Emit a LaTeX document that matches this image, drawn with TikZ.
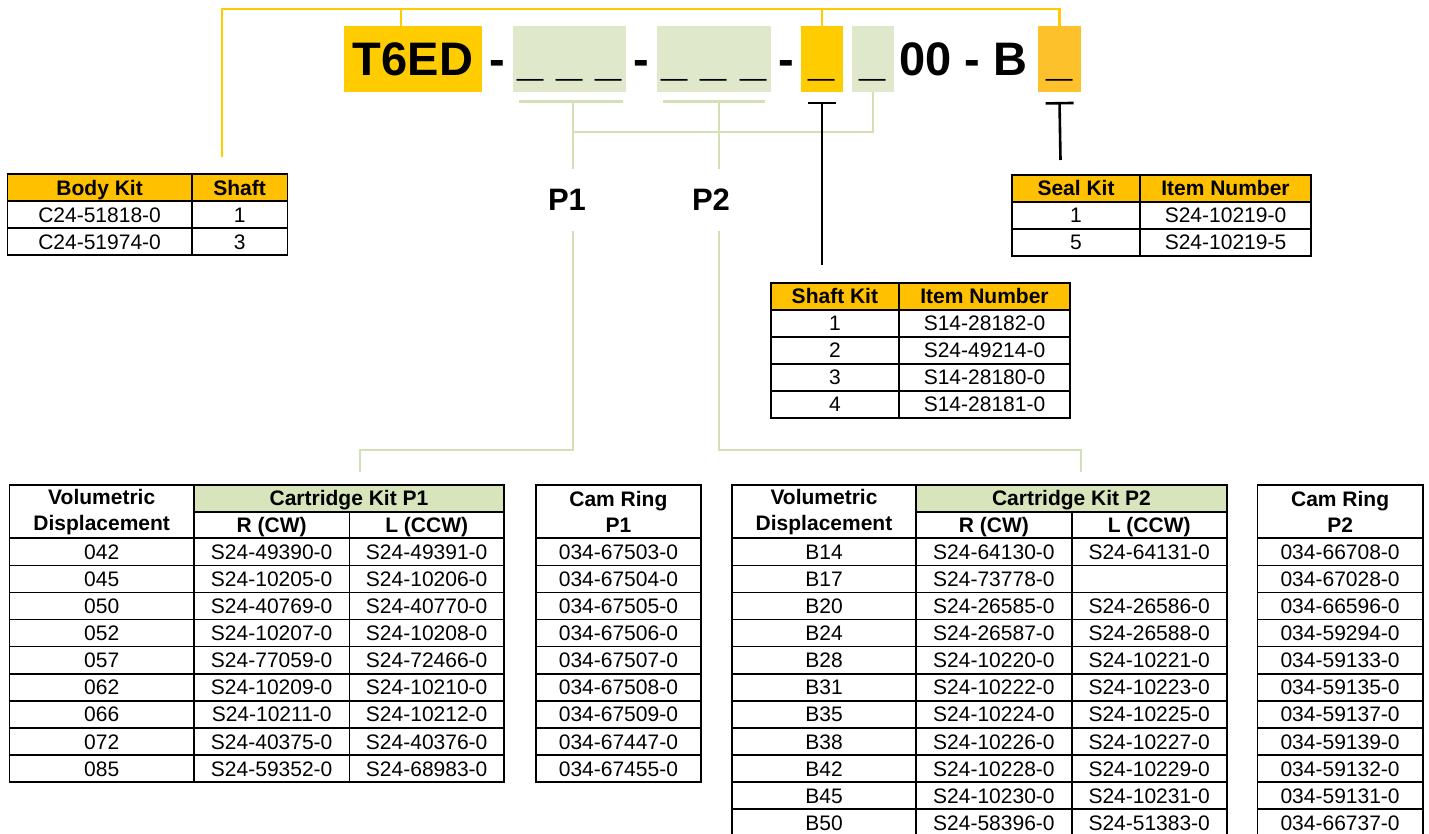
\documentclass[tikz,border=0pt]{standalone}
\usepackage{fontspec}
\setmainfont{Liberation Sans}
\usetikzlibrary{arrows.meta}
\definecolor{codeyellow}{HTML}{FFCC00}
\definecolor{sealyellow}{HTML}{FDC22B}
\definecolor{headyellow}{HTML}{FFC000}
\definecolor{codegreen}{HTML}{DFE8CB}
\definecolor{headgreen}{HTML}{D8E4BC}
\definecolor{linegreen}{HTML}{D3DFB5}

\begin{document}
\begin{tikzpicture}[x=1pt,y=-1pt]
\tikzset{
    codebox/.style = {rectangle, inner sep=0pt, minimum height=66pt, text height=34pt, text depth=0pt, font=\fontsize{47}{50}\selectfont\bfseries},
    codetext/.style = {inner sep=0pt, anchor=base, font=\fontsize{47}{50}\selectfont\bfseries},
    basecell/.style = {rectangle, draw=black, line width=1.6pt, inner sep=0pt, font=\fontsize{21}{26}\selectfont},
    cell/.style = {basecell, minimum height=27pt, text height=15pt, text depth=0pt},
    boldcell/.style = {cell, font=\fontsize{21}{26}\selectfont\bfseries},
    headcell/.style = {boldcell, fill=headyellow},
    tallcell/.style = {basecell, minimum height=53.3pt, align=center, font=\fontsize{21}{26}\selectfont\bfseries},
    plabel/.style = {inner sep=0pt, minimum height=62pt, font=\fontsize{31}{34}\selectfont\bfseries},
    yline/.style = {line width=2.6pt, draw=codeyellow},
    gline/.style = {line width=2.8pt, draw=linegreen},
    tline/.style = {line width=2.6pt, draw=black, {Bar[width=28pt,line width=2.6pt]}-}
}
\useasboundingbox (0,0) rectangle (1429,834);

\node[codebox, fill=codeyellow, minimum width=138pt] (t6ed) at (413,59) {T6ED};
\node[codetext] (dasha) at (497,76) {-};
\node[codebox, fill=codegreen, minimum width=113pt] (poneslot) at (569.5,59) {\_ \_ \_};
\node[codetext] (dashb) at (641.5,76) {-};
\node[codebox, fill=codegreen, minimum width=114pt] (ptwoslot) at (714,59) {\_ \_ \_};
\node[codetext] (dashc) at (786,76) {-};
\node[codebox, fill=codeyellow, minimum width=42pt] (shaftslot) at (822,59) {\_};
\node[codebox, fill=codegreen, minimum width=42pt] (optslot) at (873,59) {\_};
\node[codetext, anchor=base west] (tail) at (899,76) {00 - B};
\node[codebox, fill=sealyellow, minimum width=43pt] (sealslot) at (1059.5,59) {\_};

\node[plabel] (pone) at (567,200) {P1};
\node[plabel] (ptwo) at (711,200) {P2};

\coordinate (yrail) at (0,9);
\coordinate (bodyend) at (222,157);
\coordinate (t6tap) at (401,26);
\draw[yline] (bodyend) |- (yrail -| sealslot) -- (sealslot.north);
\draw[yline] (yrail -| shaftslot) -- (shaftslot.north);
\draw[yline] (yrail -| t6tap) -- (t6tap);

\coordinate (ponetap) at (573,101.7);
\coordinate (ptwotap) at (719,101.7);
\coordinate (gjoin) at (0,132);
\coordinate (grail) at (0,450);
\coordinate (ponedrop) at (360,472);
\coordinate (ptwodrop) at (1081,472);
\draw[gline] ([xshift=6pt,yshift=-9.7pt]poneslot.south west) -- ([xshift=-3pt,yshift=-9.7pt]poneslot.south east);
\draw[gline] ([xshift=6pt,yshift=-9.7pt]ptwoslot.south west) -- ([xshift=-6pt,yshift=-9.7pt]ptwoslot.south east);
\draw[gline] (optslot.south) |- (gjoin -| ponetap);
\draw[gline] (ponetap) -- (ponetap |- pone.north);
\draw[gline] (ptwotap) -- (ptwotap |- ptwo.north);
\draw[gline] (ponetap |- pone.south) |- (ponedrop |- grail) -- (ponedrop);
\draw[gline] (ptwotap |- ptwo.south) |- (ptwodrop |- grail) -- (ptwodrop);

\coordinate (shaftend) at (822,265);
\coordinate (sealend) at (1060.5,160);
\draw[tline] ([yshift=-9.7pt]shaftslot.south) -- (shaftend);
\draw[tline] ([yshift=-9.7pt]sealslot.south) -- (sealend);

\node[headcell, minimum width=184.2pt] (bodyhead) at (99.6,187.8) {Body Kit};
\node[headcell, minimum width=95.8pt] (bodyshaft) at (239.6,187.8) {Shaft};
\foreach \kit/\sh [count=\i] in {C24-51818-0/1, C24-51974-0/3} {
    \node[cell, minimum width=184.2pt] (body\i) at (99.6,187.8+27*\i) {\kit};
    \node[cell, minimum width=95.8pt] (bodysh\i) at (239.6,187.8+27*\i) {\sh};
}

\node[headcell, minimum width=128pt] (sealhead) at (1076,188.5) {Seal Kit};
\node[headcell, minimum width=171pt] (sealitem) at (1225.5,188.5) {Item Number};
\foreach \kit/\item [count=\i] in {1/S24-10219-0, 5/S24-10219-5} {
    \node[cell, minimum width=128pt] (seal\i) at (1076,188.5+27*\i) {\kit};
    \node[cell, minimum width=171pt] (sealno\i) at (1225.5,188.5+27*\i) {\item};
}

\node[headcell, minimum width=128.3pt] (shafthead) at (834.9,296.3) {Shaft Kit};
\node[headcell, minimum width=171pt] (shaftitem) at (984.5,296.3) {Item Number};
\foreach \kit/\item [count=\i] in {1/S14-28182-0, 2/S24-49214-0, 3/S14-28180-0, 4/S14-28181-0} {
    \node[cell, minimum width=128.3pt] (shaft\i) at (834.9,296.3+27*\i) {\kit};
    \node[cell, minimum width=171pt] (shaftno\i) at (984.5,296.3+27*\i) {\item};
}

\node[tallcell, minimum width=184.7pt] (vdone) at (101.7,511.7) {Volumetric\\Displacement};
\node[boldcell, fill=headgreen, minimum width=310pt, minimum height=26.7pt] (cartone) at (349,498.4) {Cartridge Kit P1};
\node[boldcell, minimum width=155.3pt, minimum height=26.7pt] (rone) at (271.7,525) {R (CW)};
\node[boldcell, minimum width=154.7pt, minimum height=26.7pt] (lone) at (426.7,525) {L (CCW)};
\node[tallcell, minimum width=165.3pt] (camone) at (618.4,511.7) {Cam Ring\\P1};
\foreach \vd/\rk/\lk/\cam [count=\i] in {
    042/S24-49390-0/S24-49391-0/034-67503-0,
    045/S24-10205-0/S24-10206-0/034-67504-0,
    050/S24-40769-0/S24-40770-0/034-67505-0,
    052/S24-10207-0/S24-10208-0/034-67506-0,
    057/S24-77059-0/S24-72466-0/034-67507-0,
    062/S24-10209-0/S24-10210-0/034-67508-0,
    066/S24-10211-0/S24-10212-0/034-67509-0,
    072/S24-40375-0/S24-40376-0/034-67447-0,
    085/S24-59352-0/S24-68983-0/034-67455-0} {
    \node[cell, minimum width=184.7pt, minimum height=27.1pt] (vdone\i) at (101.7,524.7+27.1*\i) {\vd};
    \node[cell, minimum width=155.3pt, minimum height=27.1pt] (rone\i) at (271.7,524.7+27.1*\i) {\rk};
    \node[cell, minimum width=154.7pt, minimum height=27.1pt] (lone\i) at (426.7,524.7+27.1*\i) {\lk};
    \node[cell, minimum width=165.3pt, minimum height=27.1pt] (camone\i) at (618.4,524.7+27.1*\i) {\cam};
}

\node[tallcell, minimum width=184pt] (vdtwo) at (824,511.7) {Volumetric\\Displacement};
\node[boldcell, fill=headgreen, minimum width=310.7pt, minimum height=26.7pt] (carttwo) at (1071.4,498.4) {Cartridge Kit P2};
\node[boldcell, minimum width=155.7pt, minimum height=26.7pt] (rtwo) at (993.9,525) {R (CW)};
\node[boldcell, minimum width=155pt, minimum height=26.7pt] (ltwo) at (1149.2,525) {L (CCW)};
\node[tallcell, minimum width=165.2pt] (camtwo) at (1340.1,511.7) {Cam Ring\\P2};
\foreach \vd/\rk/\lk/\cam [count=\i] in {
    B14/S24-64130-0/S24-64131-0/034-66708-0,
    B17/S24-73778-0/{}/034-67028-0,
    B20/S24-26585-0/S24-26586-0/034-66596-0,
    B24/S24-26587-0/S24-26588-0/034-59294-0,
    B28/S24-10220-0/S24-10221-0/034-59133-0,
    B31/S24-10222-0/S24-10223-0/034-59135-0,
    B35/S24-10224-0/S24-10225-0/034-59137-0,
    B38/S24-10226-0/S24-10227-0/034-59139-0,
    B42/S24-10228-0/S24-10229-0/034-59132-0,
    B45/S24-10230-0/S24-10231-0/034-59131-0,
    B50/S24-58396-0/S24-51383-0/034-66737-0} {
    \node[cell, minimum width=184pt, minimum height=27.1pt] (vdtwo\i) at (824,524.7+27.1*\i) {\vd};
    \node[cell, minimum width=155.7pt, minimum height=27.1pt] (rtwo\i) at (993.9,524.7+27.1*\i) {\rk};
    \node[cell, minimum width=155pt, minimum height=27.1pt] (ltwo\i) at (1149.2,524.7+27.1*\i) {\lk};
    \node[cell, minimum width=165.2pt, minimum height=27.1pt] (camtwo\i) at (1340.1,524.7+27.1*\i) {\cam};
}
\end{tikzpicture}
\end{document}
